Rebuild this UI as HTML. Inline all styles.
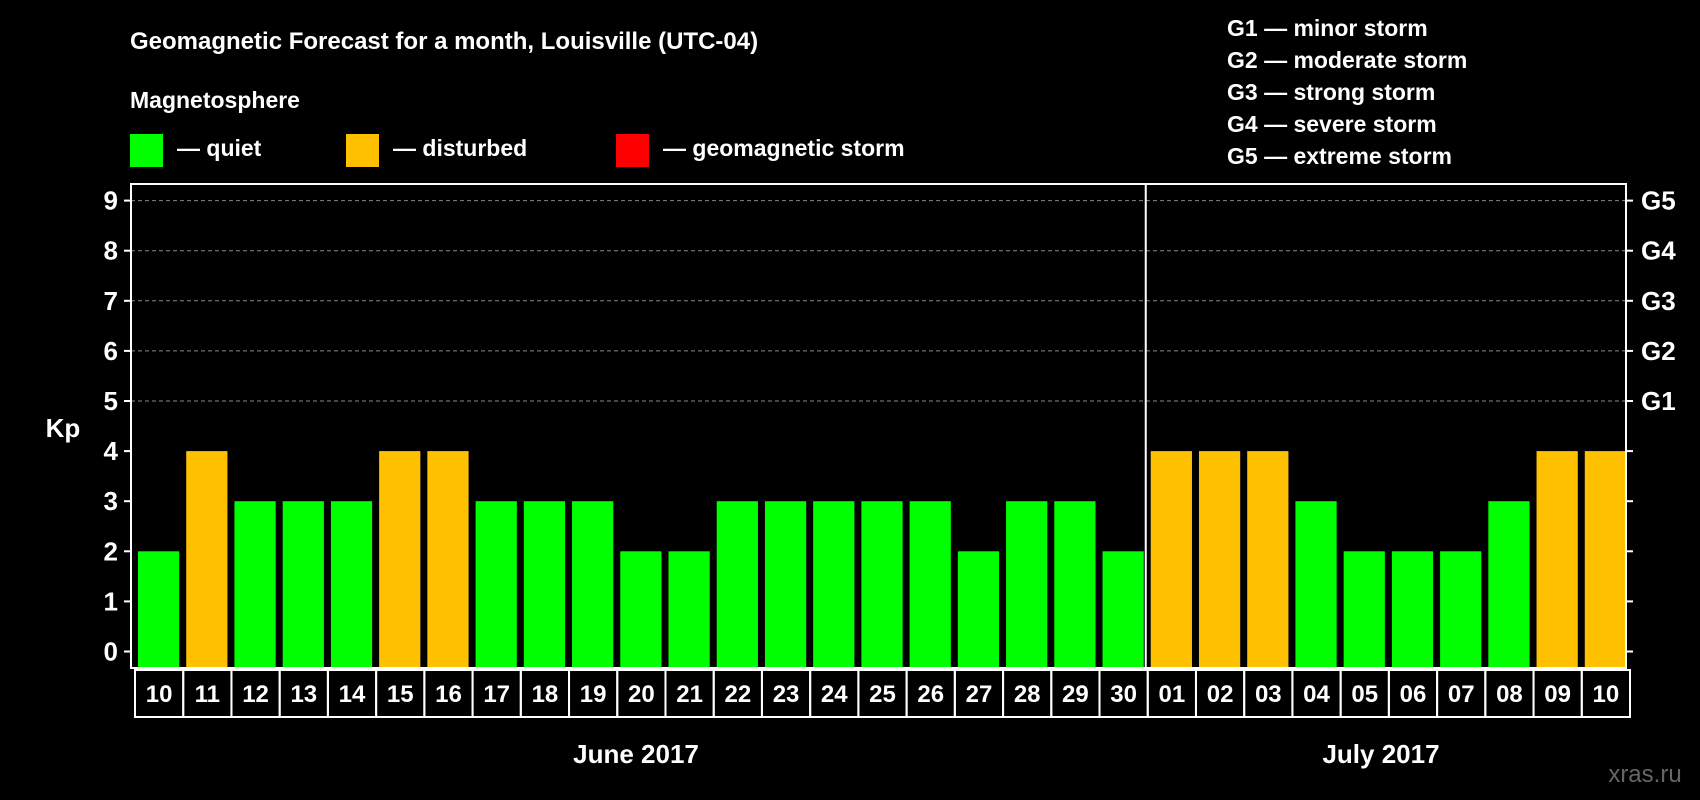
<!DOCTYPE html>
<html><head><meta charset="utf-8"><style>
body{margin:0;background:#000;width:1700px;height:800px;overflow:hidden}
svg{display:block;font-family:"Liberation Sans",sans-serif;font-weight:bold}
</style></head><body>
<svg id="c" width="1700" height="800">
<text x="130" y="49" fill="#fff" font-size="24">Geomagnetic Forecast for a month, Louisville (UTC-04)</text>
<text x="130" y="108" fill="#fff" font-size="23">Magnetosphere</text>
<rect x="130" y="134" width="33" height="33" fill="#00ff00"/>
<text x="177" y="156" fill="#fff" font-size="23">— quiet</text>
<rect x="346" y="134" width="33" height="33" fill="#ffc000"/>
<text x="393" y="156" fill="#fff" font-size="23">— disturbed</text>
<rect x="616" y="134" width="33" height="33" fill="#ff0000"/>
<text x="663" y="156" fill="#fff" font-size="23">— geomagnetic storm</text>
<g fill="#fff" font-size="23">
<text x="1227" y="36">G1 — minor storm</text>
<text x="1227" y="68">G2 — moderate storm</text>
<text x="1227" y="100">G3 — strong storm</text>
<text x="1227" y="132">G4 — severe storm</text>
<text x="1227" y="164">G5 — extreme storm</text>
</g>
<text x="63" y="437" fill="#fff" font-size="26" text-anchor="middle">Kp</text>
<text x="636" y="763" fill="#fff" font-size="26" text-anchor="middle">June 2017</text>
<text x="1381" y="763" fill="#fff" font-size="26" text-anchor="middle">July 2017</text>
<text x="1645" y="782" fill="#666" font-size="24" text-anchor="middle" font-weight="normal">xras.ru</text>
<g id="plot"></g>
</svg>
<script>
const days=["10","11","12","13","14","15","16","17","18","19","20","21","22","23","24","25","26","27","28","29","30","01","02","03","04","05","06","07","08","09","10"];
const kp=[2,4,3,3,3,4,4,3,3,3,2,2,3,3,3,3,3,2,3,3,2,4,4,4,3,2,2,2,3,4,4];
const yTicks=[0,1,2,3,4,5,6,7,8,9];
const gLabels=["G1","G2","G3","G4","G5"];
const monthSplit=21;
const L=131,R=1626,T=184,B=668,NS="http://www.w3.org/2000/svg";
const slot=(R-L)/days.length;
const y=v=>651.5-v*50.1;
const x=i=>L+i*slot;
const g=document.getElementById('plot');
function mk(t,a){const e=document.createElementNS(NS,t);for(const k in a)e.setAttribute(k,a[k]);g.appendChild(e);return e;}
yTicks.forEach(v=>{
  if(v>=5){const l=mk('line',{x1:L,x2:R,y1:y(v),y2:y(v),stroke:'#888','stroke-dasharray':'4,3','stroke-width':1});
  
  }
  const t1=mk('line',{x1:L-7,x2:L,y1:y(v),y2:y(v),stroke:'#fff','stroke-width':2});
  
  
  const t2=mk('line',{x1:R,x2:R+7,y1:y(v),y2:y(v),stroke:'#fff','stroke-width':2});
  
  
  const tx=mk('text',{x:L-13,y:y(v)+9,fill:'#fff','font-size':26,'text-anchor':'end'});
  tx.textContent=v;
  
  
});
gLabels.forEach((s,i)=>{
  const t=mk('text',{x:R+15,y:y(5+i)+9,fill:'#fff','font-size':26});
  t.textContent=s;
  
  
});
kp.forEach((v,i)=>{
  const c=v>=5?'#ff0000':v>=4?'#ffc000':'#00ff00';
  const r=mk('rect',{x:x(i)+7,y:y(v),width:slot-7,height:B-1-y(v),fill:c});
  
  
  const cell=mk('rect',{x:x(i)+4,y:670,width:slot,height:47,fill:'none',stroke:'#fff','stroke-width':2});
  
  
  const t=mk('text',{x:x(i)+4+slot/2,y:702,fill:'#fff','font-size':24,'text-anchor':'middle'});
  t.textContent=days[i];
  
  
});
const d=mk('line',{x1:x(monthSplit)+2,x2:x(monthSplit)+2,y1:T,y2:B,stroke:'#fff','stroke-width':2});


const f=mk('rect',{x:L,y:T,width:R-L,height:B-T,fill:'none',stroke:'#fff','stroke-width':2});


</script>
</body></html>
